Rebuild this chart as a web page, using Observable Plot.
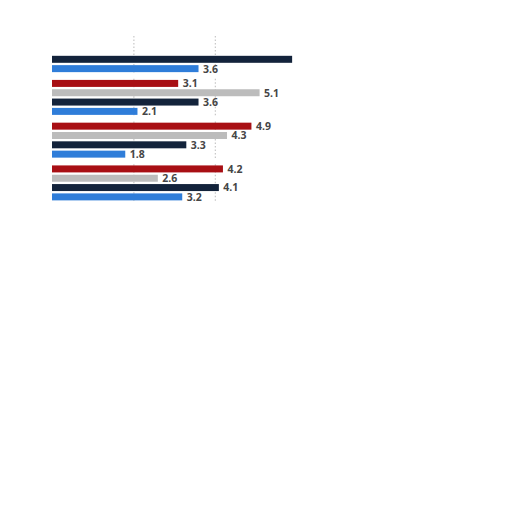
<!DOCTYPE html>
<html>
<head>
<meta charset="utf-8">
<script src="https://cdn.jsdelivr.net/npm/d3@7"></script>
<script src="https://cdn.jsdelivr.net/npm/@observablehq/plot@0.6"></script>
<style>
  html, body { margin: 0; padding: 0; background: #fff; }
  #chart svg { display: block; }
</style>
</head>
<body>
<div id="chart"></div>
<script>
const groups = [0, 1, 2, 3];
const seriesNames = ["Series A", "Series B", "Series C", "Series D"];
const seriesColors = ["#a80f14", "#bcbcbc", "#13233b", "#2f7dd9"];
// values per group, in series order (null = not visible)
const seriesAValues = [null, 3.1, 4.9, 4.2];
const seriesBValues = [null, 5.1, 4.3, 2.6];
const seriesCValues = [5.9, 3.6, 3.3, 4.1];
const seriesDValues = [3.6, 2.1, 1.8, 3.2];
const hiddenLabels = ["0-Series C"];
const gridTicks = [2, 4];

const valueArrays = [seriesAValues, seriesBValues, seriesCValues, seriesDValues];
const data = [];
groups.forEach((g, gi) => {
  seriesNames.forEach((s, si) => {
    const v = valueArrays[si][gi];
    if (v != null) data.push({group: g, series: s, value: v, key: g + "-" + s});
  });
});
const labelData = data.filter(d => !hiddenLabels.includes(d.key));

const chart = Plot.plot({
  width: 512,
  height: 210,
  marginLeft: 52,
  marginRight: 53,
  marginTop: 36,
  marginBottom: 8.45,
  x: {domain: [0, 10], axis: null},
  y: {domain: seriesNames, paddingInner: 0.25, paddingOuter: 0.125, axis: null, round: false},
  fy: {domain: groups, paddingInner: 0.1275, paddingOuter: 0, axis: null, round: false},
  color: {type: "ordinal", domain: seriesNames, range: seriesColors},
  style: {fontFamily: "'Open Sans', sans-serif", background: "#fff"},
  marks: [
    Plot.ruleX(gridTicks, {stroke: "#aaaaaa", strokeDasharray: "1.5,2", strokeWidth: 0.8}),
    Plot.barX(data, {x: "value", y: "series", fy: "group", fill: "series"}),
    Plot.text(labelData, {
      x: "value", y: "series", fy: "group", text: d => d.value.toFixed(1),
      dx: 4, textAnchor: "start", fill: "#454545", fontWeight: "bold", fontSize: 10.5
    })
  ]
});
document.getElementById("chart").appendChild(chart);
</script>
</body>
</html>
